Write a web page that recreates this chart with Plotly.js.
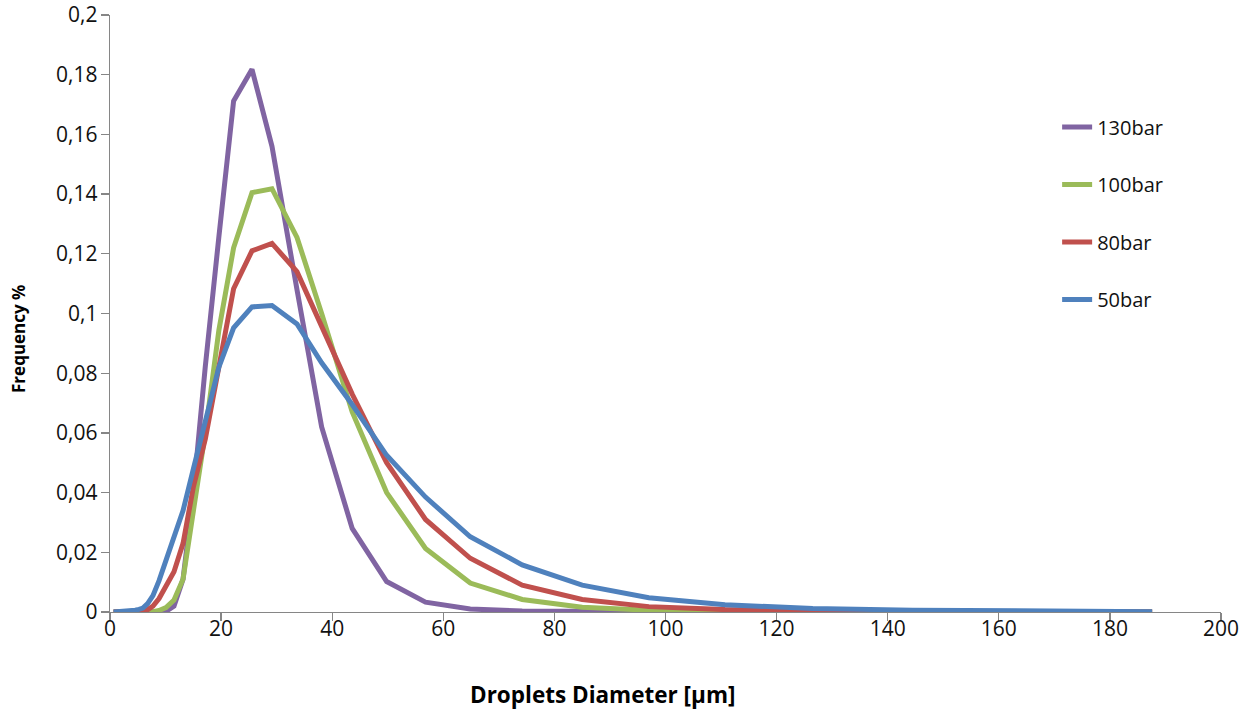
<!DOCTYPE html>
<html>
<head>
<meta charset="utf-8">
<script src="https://cdn.plot.ly/plotly-3.0.1.min.js"></script>
<style>
  html, body { margin: 0; padding: 0; background: #ffffff; }
  #chart { width: 1250px; height: 711px; }
</style>
</head>
<body>
<div id="chart"></div>
<script>
// Droplet size classes (µm)
const diameter = [0.65, 2.2, 3.65, 4.55, 5.2, 5.92, 6.77, 7.73, 8.83, 10.08, 11.52, 13.15, 15.02, 17.16, 19.6, 22.25,
                  25.56, 29.16, 33.66, 38.1, 43.6, 49.8, 56.8, 64.85, 74.2, 85.0, 97.0, 110.7, 126.5, 144.5, 165.1, 187.6];

// Frequency per size class for each injection pressure
const freq130 = [0, 0, 0, 0, 0, 0, 0, 0, 0, 0.0002, 0.002, 0.011, 0.04, 0.0823, 0.1257, 0.1712,
                 0.1818, 0.156, 0.108, 0.062, 0.028, 0.0102, 0.0033, 0.001, 0.0003, 0.0001, 0, 0, 0, 0, 0, 0];
const freq100 = [0, 0, 0, 0, 0, 0, 0, 0.0001, 0.0005, 0.0015, 0.004, 0.011, 0.034, 0.060, 0.0944, 0.122,
                 0.1405, 0.1418, 0.1255, 0.100, 0.067, 0.040, 0.0213, 0.0097, 0.0042, 0.0016, 0.0006, 0.0002, 0.0001, 0, 0, 0];
const freq80  = [0, 0, 0, 0, 0.0001, 0.0003, 0.0008, 0.002, 0.0045, 0.0085, 0.0135, 0.023, 0.042, 0.058, 0.083, 0.1083,
                 0.121, 0.1235, 0.114, 0.0955, 0.073, 0.050, 0.031, 0.018, 0.009, 0.0042, 0.0018, 0.0008, 0.0004, 0.0002, 0.0001, 0];
const freq50  = [0, 0.0001, 0.0003, 0.0006, 0.0009, 0.0013, 0.0028, 0.0055, 0.0105, 0.0172, 0.0245, 0.034, 0.048, 0.064, 0.082, 0.0952,
                 0.1022, 0.1027, 0.0965, 0.0835, 0.0695, 0.0525, 0.0385, 0.0252, 0.0158, 0.009, 0.0048, 0.0024, 0.0012, 0.0006, 0.0003, 0.0001];

const seriesNames = ['130bar', '100bar', '80bar', '50bar'];
const seriesValues = [freq130, freq100, freq80, freq50];
const seriesColors = ['#8064A2', '#9BBB59', '#C0504D', '#4F81BD'];

const FONT = 'Open Sans, Liberation Sans, sans-serif';

const traces = seriesNames.map((name, i) => ({
  type: 'scatter',
  mode: 'lines',
  name: name,
  x: diameter,
  y: seriesValues[i],
  legendgroup: 'g' + i,
  line: { color: seriesColors[i], width: 5, shape: 'linear' },
  hoverinfo: 'x+y+name'
}));

const axisCommon = {
  showline: true,
  linecolor: '#868686',
  linewidth: 1.3,
  ticks: 'outside',
  ticklen: 8,
  tickwidth: 1.3,
  tickcolor: '#868686',
  showgrid: false,
  zeroline: false,
  tickfont: { family: FONT, size: 21, color: '#111111' }
};

const layout = {
  width: 1250,
  height: 711,
  paper_bgcolor: '#ffffff',
  plot_bgcolor: '#ffffff',
  separators: ', ',
  margin: { l: 110, r: 29, t: 15, b: 99 },
  xaxis: Object.assign({}, axisCommon, {
    range: [0, 200],
    tick0: 0,
    dtick: 20,
    ticklabelstandoff: -11
  }),
  yaxis: Object.assign({}, axisCommon, {
    range: [0, 0.2],
    tick0: 0,
    dtick: 0.02,
    ticklabelstandoff: -1
  }),
  showlegend: true,
  legend: {
    x: 0.8525,
    xanchor: 'left',
    y: 0.845,
    yanchor: 'top',
    font: { family: FONT, size: 20, color: '#111111' },
    tracegroupgap: 28.5,
    bgcolor: 'rgba(0,0,0,0)'
  },
  annotations: [
    {
      text: '<b>Droplets Diameter [µm]</b>',
      xref: 'paper', yref: 'paper',
      x: 0.443, y: -0.139,
      xanchor: 'center', yanchor: 'middle',
      showarrow: false,
      font: { family: FONT, size: 22.5, color: '#000000' }
    },
    {
      text: '<b>Frequency %</b>',
      xref: 'paper', yref: 'paper',
      x: -0.083, y: 0.457,
      xanchor: 'center', yanchor: 'middle',
      textangle: -90,
      showarrow: false,
      font: { family: FONT, size: 17, color: '#000000' }
    }
  ]
};

Plotly.newPlot('chart', traces, layout, { displayModeBar: false, staticPlot: true });
</script>
</body>
</html>
